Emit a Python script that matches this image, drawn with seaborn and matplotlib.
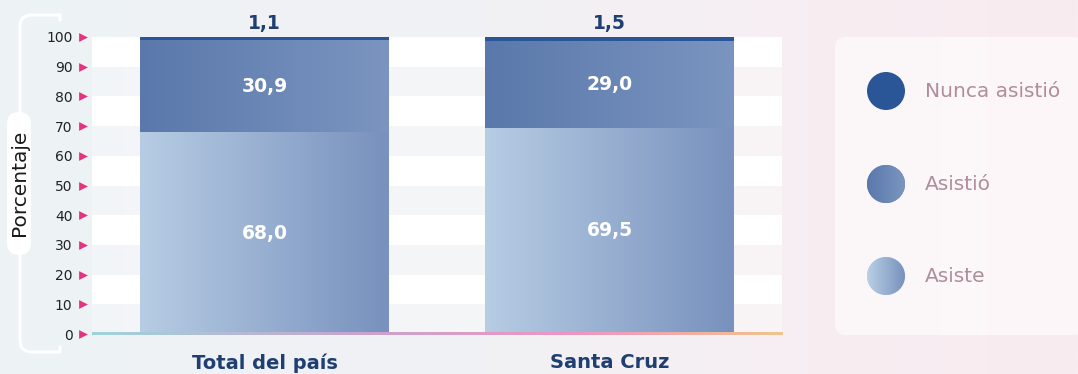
import numpy as np
import pandas as pd
import matplotlib
matplotlib.use("Agg")
import matplotlib.pyplot as plt
import seaborn as sns
from matplotlib.colors import LinearSegmentedColormap
from matplotlib.patches import FancyBboxPatch, Circle, PathPatch
from matplotlib.path import Path
from matplotlib.transforms import blended_transform_factory

# ---- data ----
categories = ["Total del país", "Santa Cruz"]
asiste = [68.0, 69.5]
asistio = [30.9, 29.0]
nunca = [1.1, 1.5]
series_names = ["Nunca asistió", "Asistió", "Asiste"]
yticks = list(range(0, 101, 10))

sns.set_theme(style="white")
plt.rcParams["font.family"] = ["DejaVu Sans"]

W, H = 1078, 374
fig = plt.figure(figsize=(W / 100, H / 100), dpi=100)

# soft page background: bluish on the left fading to pink on the right
bg = fig.add_axes([0, 0, 1, 1], zorder=-10)
bg_cmap = LinearSegmentedColormap.from_list(
    "bg", [(0, "#edf3f6"), (0.45, "#f1f1f4"), (0.75, "#f7eef2"), (1, "#f9ebf0")])
bg.imshow(np.linspace(0, 1, 512)[None, :], cmap=bg_cmap, aspect="auto",
          extent=[0, 1, 0, 1], interpolation="bicubic")
bg.set_xlim(0, 1); bg.set_ylim(0, 1)
bg.axis("off")

ax = fig.add_axes([92 / W, 40 / H, 690 / W, 297 / H])
ax.set_facecolor("none")

df = pd.DataFrame({
    "categoria": categories,
    "asiste": asiste,
    "asistio": asistio,
    "nunca": nunca,
})
df["acum_asistio"] = df["asiste"] + df["asistio"]
df["total"] = df["acum_asistio"] + df["nunca"]

BAR_W = 0.72


def gradient_fill(axis, patch, c0, c1, z):
    x0, y0 = patch.get_x(), patch.get_y()
    w, h = patch.get_width(), patch.get_height()
    cmap = LinearSegmentedColormap.from_list("g", [c0, c1])
    im = axis.imshow(np.linspace(0, 1, 256)[None, :], cmap=cmap, aspect="auto",
                     extent=[x0, x0 + w, y0, y0 + h], zorder=z,
                     interpolation="bicubic")
    im.set_clip_path(patch)


# stacked bars: full total first, then cumulative layers on top
layers = [
    ("total", "#2a5597", None, 2),
    ("acum_asistio", "#5a78ab", "#7b95c0", 3),
    ("asiste", "#b7cde4", "#7891bd", 4),
]
for col, c0, c1, z in layers:
    n_before = len(ax.patches)
    sns.barplot(data=df, x="categoria", y=col, order=categories, color=c0,
                width=BAR_W, ax=ax, zorder=z, linewidth=0, saturation=1)
    new = ax.patches[n_before:]
    for p in new:
        p.set_edgecolor("none")
        if c1 is not None:
            gradient_fill(ax, p, c0, c1, z + 0.1)

# alternating white bands
for lo in range(90, -1, -20):
    ax.axhspan(lo, lo + 10, color="white", zorder=0.5, lw=0)
for lo in range(80, -1, -20):
    ax.axhspan(lo, lo + 10, color="white", alpha=0.3, zorder=0.4, lw=0)

# gradient baseline along y = 0
base_cmap = LinearSegmentedColormap.from_list(
    "base", [(0, "#9fd3dc"), (0.4, "#c9a3cb"), (0.7, "#ee96c2"), (1, "#f0c48e")])
ax.imshow(np.linspace(0, 1, 512)[None, :], cmap=base_cmap, aspect="auto",
          extent=[-0.5, 1.5, -0.45, 0.55], zorder=8, interpolation="bicubic",
          clip_on=False)

ax.set_xlim(-0.5, 1.5)
ax.set_ylim(0, 100)
for s in ax.spines.values():
    s.set_visible(False)
ax.set_xlabel("")
ax.set_ylabel("")

# value labels
for i, row in df.iterrows():
    ax.text(i, row["asiste"] / 2, f"{row['asiste']:.1f}".replace(".", ","),
            ha="center", va="center", color="white", fontsize=13.5,
            fontweight="bold", zorder=10)
    ax.text(i, row["asiste"] + row["asistio"] / 2,
            f"{row['asistio']:.1f}".replace(".", ","),
            ha="center", va="center", color="white", fontsize=13.5,
            fontweight="bold", zorder=10)
    ax.text(i, row["total"] + 1.3, f"{row['nunca']:.1f}".replace(".", ","),
            ha="center", va="bottom", color="#1f3f73", fontsize=13.5,
            fontweight="bold", zorder=10, clip_on=False)

# ticks
ax.set_yticks(yticks)
ax.set_yticklabels([str(t) for t in yticks])
ax.tick_params(axis="y", length=0, pad=14, labelsize=10, labelcolor="#222222")
ax.tick_params(axis="x", length=0, pad=14)
ax.set_xticks(range(len(categories)))
ax.set_xticklabels(categories, fontsize=14, fontweight="bold", color="#1f3f73")
trans = blended_transform_factory(ax.transAxes, ax.transData)
ax.scatter([-0.013] * len(yticks), yticks, marker=">", s=40, color="#e6327f",
           transform=trans, clip_on=False, zorder=10, linewidths=0)

# overlay in pixel coordinates for the axis bracket and legend panel
ov = fig.add_axes([0, 0, 1, 1], zorder=5)
ov.set_xlim(0, W)
ov.set_ylim(H, 0)
ov.axis("off")
ov.patch.set_alpha(0)

verts = [(60, 20), (60, 15), (32, 15), (20, 15), (20, 27), (20, 340),
         (20, 352), (32, 352), (60, 352), (60, 347)]
codes = [Path.MOVETO, Path.LINETO, Path.LINETO, Path.CURVE3, Path.CURVE3,
         Path.LINETO, Path.CURVE3, Path.CURVE3, Path.LINETO, Path.LINETO]
ov.add_patch(PathPatch(Path(verts, codes), facecolor="none", edgecolor="white",
                       lw=2.2, capstyle="round", joinstyle="round"))
ov.add_patch(FancyBboxPatch((7, 112), 24, 143,
                            boxstyle="round,pad=0,rounding_size=12",
                            facecolor="white", edgecolor="none"))
ov.text(19.5, 183, "Porcentaje", rotation=90, ha="center", va="center",
        fontsize=14.5, color="#1a1a1a")

# legend panel
ov.add_patch(FancyBboxPatch((835, 37), 250, 298,
                            boxstyle="round,pad=0,rounding_size=11",
                            facecolor=(1, 1, 1, 0.6), edgecolor="none"))
legend_colors = [("#2a5597", "#2a5597"), ("#5a78ab", "#7b95c0"),
                 ("#b9d0e6", "#7891bd")]
legend_y = [91, 184, 276]
for name, (c0, c1), y in zip(series_names, legend_colors, legend_y):
    circ = Circle((886, y), 19, facecolor=c0, edgecolor="none")
    ov.add_patch(circ)
    if c0 != c1:
        cmap = LinearSegmentedColormap.from_list("l", [c0, c1])
        im = ov.imshow(np.linspace(0, 1, 128)[None, :], cmap=cmap, aspect="auto",
                       extent=[867, 905, y + 19, y - 19], interpolation="bicubic",
                       zorder=3)
        im.set_clip_path(circ)
    ov.text(925, y, name, ha="left", va="center", fontsize=14.5, color="#b08d9c")
ov.set_xlim(0, W)
ov.set_ylim(H, 0)

fig.savefig("out.png", dpi=100)
